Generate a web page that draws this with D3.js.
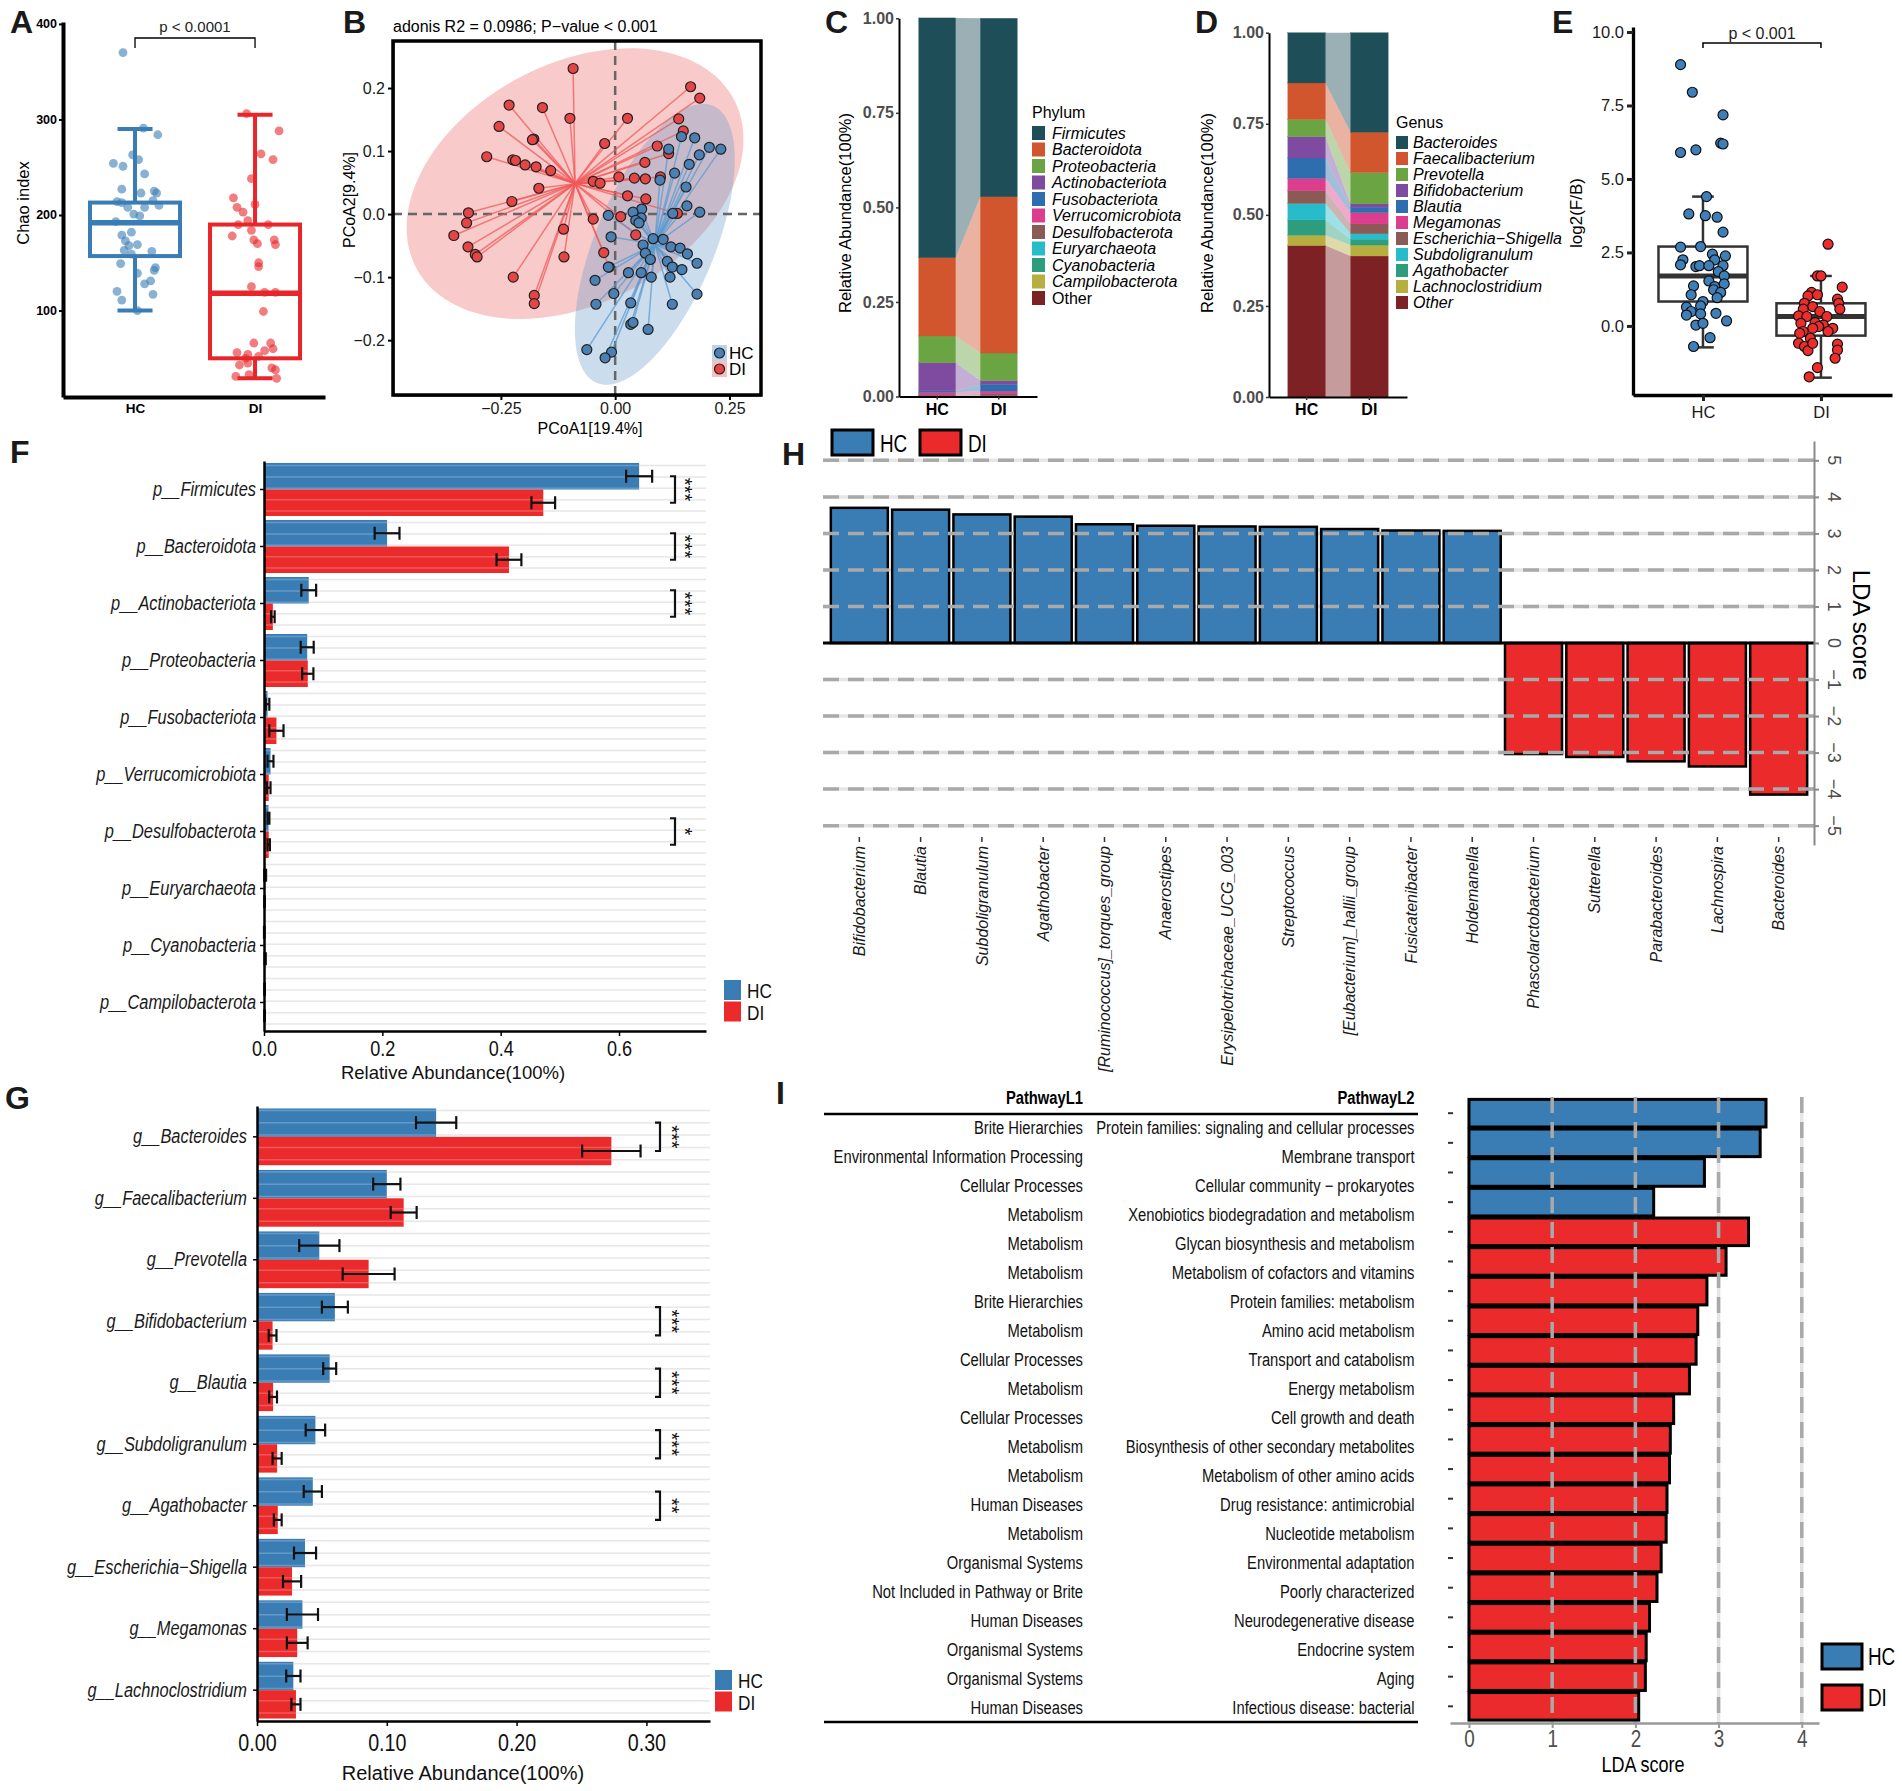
<!DOCTYPE html>
<html>
<head>
<meta charset="utf-8">
<title>Gut microbiota HC vs DI</title>
<script src="https://cdn.jsdelivr.net/npm/d3@7"></script>
<style>
  body { margin: 0; background: #fff; }
  svg { display: block; }
</style>
</head>
<body>
<svg id="fig" width="1902" height="1791"></svg>
<script>
const groups = ["HC", "DI"];

// A: Chao index (box = min, q1, median, q3, max); jitter in category units
const chaoStatsHC = [100, 157, 192, 213, 290];
const chaoStatsDI = [29, 50, 118, 190, 305];
const chaoHC = [370,291,284,263,258,254,251,243,227,223,225,223,214,213,208,208,215,210,201,199,193,182,179,173,168,169,163,162,159,149,145,142,139,131,128,120,117,111,100];
const chaoHCjit = [-0.10,0.07,0.19,-0.02,0.03,-0.18,-0.10,0.08,-0.11,0.05,0.16,0.18,-0.15,-0.11,-0.06,0.08,0.15,0.20,-0.01,0.04,-0.16,-0.03,-0.11,-0.08,-0.05,0.02,-0.09,0.14,-0.03,-0.12,0.17,0.16,0.02,0.13,0.08,-0.15,0.15,-0.11,0.02];
const chaoDI = [306,288,264,258,238,218,208,203,211,194,190,190,178,184,174,170,174,169,150,146,125,119,119,99,66,66,56,58,60,54,52,50,43,45,40,38,31,33,29];
const chaoDIjit = [-0.07,0.20,0.05,0.15,-0.03,-0.18,-0.15,-0.10,0,-0.06,-0.14,0.11,-0.19,-0.03,-0.01,0.02,0.16,0.17,0.03,0.03,-0.03,0.08,0.17,0.07,-0.01,0.13,-0.15,0.08,0.15,-0.06,0.03,-0.08,-0.13,-0.06,0.14,0.17,-0.16,-0.05,0.18];

// B: PCoA coordinates [PCoA1, PCoA2]
const pcoaHC = [[0.145,0.123],[0.174,0.121],[0.206,0.106],[0.231,0.103],[0.117,0.103],[0.184,0.094],[0.162,0.079],[0.130,0.065],[0.098,0.054],[0.155,0.043],[0.157,0.013],[0.185,0.003],[0.126,0.001],[0.058,0.008],[0.039,0.003],[-0.015,-0.002],[0.057,-0.006],[0.045,-0.010],[0.052,-0.014],[-0.009,-0.036],[0.083,-0.039],[0.105,-0.040],[0.061,-0.049],[0.122,-0.052],[0.142,-0.054],[0.158,-0.063],[0.066,-0.062],[0.077,-0.072],[0.114,-0.075],[0.179,-0.078],[0.125,-0.084],[0.146,-0.088],[-0.015,-0.084],[0.029,-0.093],[0.057,-0.093],[0.079,-0.100],[0.120,-0.100],[-0.044,-0.105],[-0.003,-0.126],[0.179,-0.127],[-0.042,-0.143],[0.034,-0.141],[0.125,-0.143],[0.034,-0.175],[0.039,-0.172],[0.072,-0.183],[-0.062,-0.215],[-0.008,-0.219],[-0.022,-0.228]];
const pcoaDI = [[-0.092,0.231],[0.165,0.202],[0.185,0.184],[-0.232,0.173],[-0.159,0.169],[-0.099,0.152],[0.027,0.152],[-0.254,0.139],[0.139,0.151],[0.149,0.132],[-0.178,0.119],[-0.181,0.118],[-0.023,0.112],[0.092,0.108],[0.117,0.096],[-0.281,0.091],[-0.224,0.086],[-0.218,0.085],[-0.197,0.078],[-0.173,0.075],[-0.141,0.069],[0.065,0.082],[0.008,0.059],[0.042,0.057],[0.066,0.056],[0.099,0.059],[-0.048,0.052],[-0.033,0.049],[-0.167,0.041],[0.027,0.029],[0.067,0.024],[-0.226,0.020],[-0.321,0.002],[0.136,0.001],[-0.325,-0.014],[-0.048,-0.008],[0.012,-0.004],[-0.353,-0.034],[-0.113,-0.024],[0.045,-0.033],[-0.322,-0.052],[-0.306,-0.064],[-0.302,-0.068],[-0.112,-0.068],[-0.025,-0.061],[-0.013,-0.084],[-0.223,-0.100],[-0.177,-0.129],[-0.177,-0.142]];

// C, D: mean relative abundance (top of stack first)
const taxaColors = ["#1E4F58","#D1552D","#6AA443","#7E4BA1","#2E6EAF","#DD3D8D","#8B5A54","#28BBCB","#2E9D7D","#B7AE40","#7E2124"];
const phylumNames = ["Firmicutes","Bacteroidota","Proteobacteria","Actinobacteriota","Fusobacteriota","Verrucomicrobiota","Desulfobacterota","Euryarchaeota","Cyanobacteria","Campilobacterota","Other"];
const phylumHC = [0.634,0.207,0.071,0.074,0.004,0.007,0.002,0.0005,0.0003,0.0003,0.0009];
const phylumDI = [0.472,0.413,0.073,0.010,0.018,0.007,0.005,0.0008,0.0006,0.0005,0.0001];
const genusNames = ["Bacteroides","Faecalibacterium","Prevotella","Bifidobacterium","Blautia","Megamonas","Escherichia\u2212Shigella","Subdoligranulum","Agathobacter","Lachnoclostridium","Other"];
const genusHC = [0.138,0.100,0.047,0.059,0.056,0.034,0.035,0.045,0.042,0.028,0.416];
const genusDI = [0.273,0.111,0.086,0.009,0.015,0.031,0.027,0.015,0.016,0.030,0.387];

// E: log2(F/B)
const fbStatsHC = [-0.73, 0.83, 1.70, 2.70, 4.40];
const fbStatsDI = [-1.76, -0.33, 0.32, 0.77, 1.70];
const fbHC = [8.89,7.95,7.18,5.90,5.99,6.22,6.19,4.40,3.81,3.75,3.70,3.19,2.68,2.70,2.25,2.08,2.44,2.25,2.38,2.02,2.05,2.05,2.05,1.85,1.70,1.53,1.34,1.43,1.36,1.23,1.06,1.14,0.96,0.83,0.68,0.64,0.49,0.37,0.41,0.43,0.17,0.03,0.09,-0.40,-0.70];
const fbHCjit = [-0.19,-0.09,0.17,-0.19,-0.06,0.15,0.17,0.03,-0.12,0.02,0.12,0.17,-0.19,-0.02,-0.17,-0.19,0.08,0.10,0.19,-0.06,-0.03,0.05,0.17,0.13,0.18,0.05,0.10,0.18,-0.08,0.09,-0.10,0.15,0.12,0,-0.02,-0.14,-0.10,-0.14,-0.02,0.11,0.20,-0.06,0,0.06,-0.08];
const fbDI = [2.78,1.70,1.70,1.32,0.91,0.77,0.57,1.14,1.02,1.06,0.77,0.66,0.57,0.49,0.34,0.32,0.32,0.09,0.11,0.03,-0.02,-0.08,-0.19,-0.08,-0.19,-0.42,-0.59,-0.70,-0.84,-0.59,-0.62,-0.82,-1.10,-1.42,-1.73,-0.25];
const fbDIjit = [0.06,-0.03,0,0.18,0.14,0.15,0.16,-0.08,-0.11,-0.03,-0.14,-0.07,-0.15,-0.01,-0.19,-0.12,0.05,-0.17,-0.05,0.02,-0.02,0.10,0.06,-0.07,-0.15,-0.09,-0.19,-0.14,-0.11,-0.07,0.14,0.14,0.12,-0.03,-0.10,-0.18];

// F: phylum abundance, mean and standard error
const phylaF = ["p__Firmicutes","p__Bacteroidota","p__Actinobacteriota","p__Proteobacteria","p__Fusobacteriota","p__Verrucomicrobiota","p__Desulfobacterota","p__Euryarchaeota","p__Cyanobacteria","p__Campilobacterota"];
const phylaFHC = [0.634,0.208,0.0756,0.073,0.006,0.011,0.0076,0.002,0.0005,0.001];
const phylaFHCse = [0.022,0.021,0.0125,0.011,0.003,0.005,0.0015,0.0015,0.0005,0.0005];
const phylaFDI = [0.472,0.414,0.015,0.074,0.021,0.008,0.008,0.001,0.002,0.001];
const phylaFDIse = [0.020,0.021,0.003,0.0095,0.012,0.003,0.002,0.0005,0.001,0.0005];
const phylaFSig = ["***","***","***","","","","*","","",""];

// G: genus abundance
const generaG = ["g__Bacteroides","g__Faecalibacterium","g__Prevotella","g__Bifidobacterium","g__Blautia","g__Subdoligranulum","g__Agathobacter","g__Escherichia\u2212Shigella","g__Megamonas","g__Lachnoclostridium"];
const generaGHC = [0.138,0.100,0.048,0.060,0.056,0.045,0.043,0.037,0.035,0.028];
const generaGHCse = [0.0155,0.0105,0.0155,0.010,0.005,0.0075,0.007,0.0085,0.012,0.0055];
const generaGDI = [0.273,0.113,0.086,0.012,0.0124,0.0155,0.016,0.027,0.031,0.030];
const generaGDIse = [0.0225,0.010,0.020,0.003,0.003,0.0035,0.003,0.007,0.008,0.0035];
const generaGSig = ["***","","","***","***","***","**","","",""];

// H: LEfSe taxa
const ldaTaxa = ["Bifidobacterium","Blautia","Subdoligranulum","Agathobacter","[Ruminococcus]_torques_group","Anaerostipes","Erysipelotrichaceae_UCG_003","Streptococcus","[Eubacterium]_hallii_group","Fusicatenibacter","Holdemanella","Phascolarctobacterium","Sutterella","Parabacteroides","Lachnospira","Bacteroides"];
const ldaScore = [3.70,3.65,3.52,3.46,3.25,3.21,3.19,3.18,3.12,3.08,3.07,-3.04,-3.12,-3.24,-3.38,-4.15];

// I: pathways
const pathL1 = ["Brite Hierarchies","Environmental Information Processing","Cellular Processes","Metabolism","Metabolism","Metabolism","Brite Hierarchies","Metabolism","Cellular Processes","Metabolism","Cellular Processes","Metabolism","Metabolism","Human Diseases","Metabolism","Organismal Systems","Not Included in Pathway or Brite","Human Diseases","Organismal Systems","Organismal Systems","Human Diseases"];
const pathL2 = ["Protein families: signaling and cellular processes","Membrane transport","Cellular community \u2212 prokaryotes","Xenobiotics biodegradation and metabolism","Glycan biosynthesis and metabolism","Metabolism of cofactors and vitamins","Protein families: metabolism","Amino acid metabolism","Transport and catabolism","Energy metabolism","Cell growth and death","Biosynthesis of other secondary metabolites","Metabolism of other amino acids","Drug resistance: antimicrobial","Nucleotide metabolism","Environmental adaptation","Poorly characterized","Neurodegenerative disease","Endocrine system","Aging","Infectious disease: bacterial"];
const pathLDA = [3.57,3.50,2.83,2.22,3.36,3.09,2.86,2.75,2.73,2.65,2.46,2.42,2.41,2.38,2.37,2.31,2.26,2.17,2.13,2.12,2.04];
const pathGroup = ["HC","HC","HC","HC","DI","DI","DI","DI","DI","DI","DI","DI","DI","DI","DI","DI","DI","DI","DI","DI","DI"];

// ---------------------------------------------------------------
const svg = d3.select("#fig");
svg.append("rect").attr("width", 1902).attr("height", 1791).attr("fill", "#fff");

const FONT = '"Liberation Sans", Arial, Helvetica, sans-serif';
const BLUE = "#3A7DB5";
const RED = "#EA2A2B";
const NK = 0.82; // lower panels use condensed lettering

// condense glyphs horizontally without moving the text anchor
function narrow(sel, k = NK) {
  sel.each(function () {
    const w = this.getComputedTextLength();
    if (w > 0) d3.select(this).attr("textLength", w * k).attr("lengthAdjust", "spacingAndGlyphs");
  });
}

function label(g, x, y, s, o = {}) {
  const t = g.append("text").attr("x", x).attr("y", y).text(s)
    .attr("fill", o.fill || "#000")
    .attr("text-anchor", o.anchor || "start")
    .style("font-family", FONT)
    .style("font-size", (o.size || 14) + "px")
    .style("font-weight", o.weight || "normal")
    .style("font-style", o.italic ? "italic" : "normal");
  if (o.rotate) t.attr("transform", `rotate(${o.rotate},${x},${y})`);
  if (o.narrow) narrow(t);
  return t;
}

function styleAxis(ax, o) {
  ax.attr("font-family", null).attr("font-size", null);
  ax.select(".domain").attr("stroke", o.line || "#000").attr("stroke-width", o.lw || 2);
  ax.selectAll(".tick line").attr("stroke", o.tick || o.line || "#000").attr("stroke-width", o.tw || o.lw || 2);
  ax.selectAll(".tick text").attr("fill", o.color || "#000")
    .style("font-family", FONT).style("font-size", o.size + "px")
    .style("font-weight", o.weight || "normal").style("font-style", o.italic ? "italic" : "normal");
  if (o.narrow) narrow(ax.selectAll(".tick text"));
}

function drawBox(g, x, y, pos, s, hw, cw, color, lw, mw) {
  const b = g.append("g").attr("stroke", color).attr("fill", "none");
  b.append("line").attr("x1", x(pos)).attr("x2", x(pos)).attr("y1", y(s[0])).attr("y2", y(s[1])).attr("stroke-width", lw);
  b.append("line").attr("x1", x(pos)).attr("x2", x(pos)).attr("y1", y(s[3])).attr("y2", y(s[4])).attr("stroke-width", lw);
  [s[0], s[4]].forEach(v => b.append("line").attr("x1", x(pos - cw)).attr("x2", x(pos + cw))
    .attr("y1", y(v)).attr("y2", y(v)).attr("stroke-width", lw));
  b.append("rect").attr("x", x(pos - hw)).attr("width", x(pos + hw) - x(pos - hw))
    .attr("y", y(s[3])).attr("height", y(s[1]) - y(s[3])).attr("stroke-width", lw);
  b.append("line").attr("x1", x(pos - hw)).attr("x2", x(pos + hw))
    .attr("y1", y(s[2])).attr("y2", y(s[2])).attr("stroke-width", mw);
}

// panel letters
[["A", 10, 33], ["B", 343, 33], ["C", 825, 33], ["D", 1195, 33], ["E", 1552, 33],
 ["F", 10, 463], ["G", 5, 1109], ["H", 782, 465], ["I", 776, 1104]]
  .forEach(d => label(svg, d[1], d[2], d[0], { size: 32, weight: "bold", fill: "#1a1a1a" }));

// ---------- A ----------
(function () {
  const g = svg.append("g");
  const x = d3.scaleLinear().domain([0.4, 2.583]).range([63, 325]);
  const y = d3.scaleLinear().domain([9.5, 402]).range([397, 22]);
  const sets = [
    { pos: 1, s: chaoStatsHC, v: chaoHC, j: chaoHCjit, c: "#3A7DB4" },
    { pos: 2, s: chaoStatsDI, v: chaoDI, j: chaoDIjit, c: "#E8262A" }
  ];
  sets.forEach(d => drawBox(g, x, y, d.pos, d.s, 0.375, 0.146, d.c, 4, 5.5));
  sets.forEach(d => {
    g.selectAll(null).data(d.v).join("circle")
      .attr("cx", (v, i) => x(d.pos + d.j[i])).attr("cy", v => y(v)).attr("r", 4.4)
      .attr("fill", d.c).attr("fill-opacity", 0.6);
  });
  const ya = g.append("g").attr("transform", "translate(63,0)")
    .call(d3.axisLeft(y).tickValues([100, 200, 300, 400]).tickSize(4).tickSizeOuter(0).tickPadding(2));
  styleAxis(ya, { lw: 4, tw: 2, size: 12.5, weight: "bold" });
  const xa = g.append("g").attr("transform", "translate(0,397)")
    .call(d3.axisBottom(x).tickValues([1, 2]).tickFormat(i => groups[i - 1]).tickSize(0).tickSizeOuter(0).tickPadding(6));
  styleAxis(xa, { lw: 4, size: 13.5, weight: "bold" });
  label(g, 29, 203, "Chao index", { size: 16.5, anchor: "middle", rotate: -90 });
  g.append("path").attr("d", `M${x(1)},48V38H${x(2)}V48`).attr("fill", "none").attr("stroke", "#000").attr("stroke-width", 1.3);
  label(g, (x(1) + x(2)) / 2, 32, "p < 0.0001", { size: 15, anchor: "middle", fill: "#222" });
})();

// ---------- B ----------
(function () {
  const g = svg.append("g");
  const x = d3.scaleLinear().domain([-0.486, 0.319]).range([393, 761]);
  const y = d3.scaleLinear().domain([-0.287, 0.2746]).range([395, 41]);
  svg.append("clipPath").attr("id", "clipB").append("rect")
    .attr("x", 393).attr("y", 41).attr("width", 368).attr("height", 354);
  const grp = [
    { pts: pcoaDI, fill: "#F08A8A", fo: 0.45, line: "#F05A5A", pt: "#E64545" },
    { pts: pcoaHC, fill: "#6A9FCB", fo: 0.35, line: "#5B9BD0", pt: "#4A80B4" }
  ];
  grp.forEach(d => {
    const n = d.pts.length;
    const mx = d3.mean(d.pts, p => p[0]), my = d3.mean(d.pts, p => p[1]);
    let sxx = 0, syy = 0, sxy = 0;
    d.pts.forEach(p => { sxx += (p[0] - mx) ** 2; syy += (p[1] - my) ** 2; sxy += (p[0] - mx) * (p[1] - my); });
    sxx /= n - 1; syy /= n - 1; sxy /= n - 1;
    const a = Math.sqrt(sxx), b = sxy / a, c = Math.sqrt(syy - b * b);
    const r = 2.4;
    d.center = [mx, my];
    d.ell = d3.range(0, 120).map(i => {
      const t = i / 120 * 2 * Math.PI, u = Math.cos(t), v = Math.sin(t);
      return [mx + r * a * u, my + r * (b * u + c * v)];
    });
  });
  const line = d3.line().x(p => x(p[0])).y(p => y(p[1])).curve(d3.curveLinearClosed);
  const inner = g.append("g").attr("clip-path", "url(#clipB)");
  grp.forEach(d => inner.append("path").attr("d", line(d.ell)).attr("fill", d.fill).attr("fill-opacity", d.fo));
  inner.append("line").attr("x1", x(0)).attr("x2", x(0)).attr("y1", 41).attr("y2", 395)
    .attr("stroke", "#666").attr("stroke-width", 2.5).attr("stroke-dasharray", "9,6");
  inner.append("line").attr("x1", 393).attr("x2", 761).attr("y1", y(0)).attr("y2", y(0))
    .attr("stroke", "#666").attr("stroke-width", 2.5).attr("stroke-dasharray", "9,6");
  grp.forEach(d => {
    inner.selectAll(null).data(d.pts).join("line")
      .attr("x1", p => x(p[0])).attr("y1", p => y(p[1]))
      .attr("x2", x(d.center[0])).attr("y2", y(d.center[1]))
      .attr("stroke", d.line).attr("stroke-opacity", 0.75).attr("stroke-width", 1.5);
  });
  grp.forEach(d => {
    inner.selectAll(null).data(d.pts).join("circle")
      .attr("cx", p => x(p[0])).attr("cy", p => y(p[1])).attr("r", 5)
      .attr("fill", d.pt).attr("stroke", "#222").attr("stroke-width", 1.2);
  });
  g.append("rect").attr("x", 393).attr("y", 41).attr("width", 368).attr("height", 354)
    .attr("fill", "none").attr("stroke", "#000").attr("stroke-width", 3.5);
  const ya = g.append("g").attr("transform", "translate(393,0)")
    .call(d3.axisLeft(y).tickValues([-0.2, -0.1, 0, 0.1, 0.2]).tickFormat(d3.format(".1f")).tickSize(5).tickSizeOuter(0).tickPadding(3));
  styleAxis(ya, { lw: 0, tw: 2, size: 16, color: "#1a1a1a" });
  const xa = g.append("g").attr("transform", "translate(0,395)")
    .call(d3.axisBottom(x).tickValues([-0.25, 0, 0.25]).tickFormat(d3.format(".2f")).tickSize(5).tickSizeOuter(0).tickPadding(3));
  styleAxis(xa, { lw: 0, tw: 2, size: 16, color: "#1a1a1a" });
  label(g, 393, 32, "adonis R2 = 0.0986; P\u2212value < 0.001", { size: 16 });
  label(g, 590, 434, "PCoA1[19.4%]", { size: 16, anchor: "middle" });
  label(g, 355, 200, "PCoA2[9.4%]", { size: 16, anchor: "middle", rotate: -90 });
  // legend
  [grp[1], grp[0]].forEach((d, i) => {
    g.append("rect").attr("x", 712).attr("y", 345 + i * 16).attr("width", 15).attr("height", 16)
      .attr("fill", d.fill).attr("fill-opacity", d.fo + 0.1);
    g.append("circle").attr("cx", 719.5).attr("cy", 353 + i * 16).attr("r", 5)
      .attr("fill", d.pt).attr("stroke", "#222").attr("stroke-width", 1.2);
    label(g, 729, 359 + i * 16, groups[i], { size: 17 });
  });
})();

// ---------- C, D ----------
function stackPanel(o) {
  const g = svg.append("g");
  const x = d3.scaleBand().domain(groups).range(o.xr).paddingInner(0.4).paddingOuter(o.po);
  const y = d3.scaleLinear().domain([0, 1]).range(o.yr);
  const color = d3.scaleOrdinal().domain(o.names).range(taxaColors);
  const table = [o.hc, o.di].map((vals, gi) => {
    const r = { group: groups[gi] };
    o.names.forEach((n, i) => { r[n] = vals[i]; });
    return r;
  });
  const series = d3.stack().keys(o.names.slice().reverse())(table);
  const xa = x("HC") + x.bandwidth(), xb = x("DI");
  g.selectAll(null).data(series).join("path")
    .attr("d", s => `M${xa},${y(s[0][1])}L${xb},${y(s[1][1])}L${xb},${y(s[1][0])}L${xa},${y(s[0][0])}Z`)
    .attr("fill", s => color(s.key)).attr("fill-opacity", 0.45);
  series.forEach(s => {
    g.selectAll(null).data(s).join("rect")
      .attr("x", d => x(d.data.group)).attr("width", x.bandwidth())
      .attr("y", d => y(d[1])).attr("height", d => y(d[0]) - y(d[1]))
      .attr("fill", color(s.key)).attr("stroke", color(s.key)).attr("stroke-width", 0.3);
  });
  const ya = g.append("g").attr("transform", `translate(${o.xr[0]},0)`)
    .call(d3.axisLeft(y).tickValues([0, 0.25, 0.5, 0.75, 1]).tickFormat(d3.format(".2f")).tickSize(3).tickSizeOuter(0).tickPadding(2));
  styleAxis(ya, { lw: 2, tw: 1.5, tick: "#333", size: 16, weight: "bold", color: "#4D4D4D" });
  const xax = g.append("g").attr("transform", `translate(0,${o.yr[0]})`)
    .call(d3.axisBottom(x).tickSize(3).tickSizeOuter(0).tickPadding(4));
  styleAxis(xax, { lw: 2, tw: 1.5, tick: "#333", size: 16, weight: "bold" });
  label(g, o.titleX, 213, "Relative Abundance(100%)", { size: 16.5, anchor: "middle", rotate: -90 });
  label(g, o.lx, o.ly, o.legendTitle, { size: 16 });
  o.names.forEach((n, i) => {
    const ky = o.ky + i * o.kstep;
    g.append("rect").attr("x", o.lx).attr("y", ky).attr("width", o.kw).attr("height", o.kh).attr("fill", color(n));
    label(g, o.lx + o.tdx, ky + o.kh / 2 + 5.5, n, { size: 16, italic: n !== "Other" || o.italicOther });
  });
}
stackPanel({ names: phylumNames, hc: phylumHC, di: phylumDI, xr: [899, 1037], po: 0.32, yr: [396.5, 18.3],
  titleX: 851, legendTitle: "Phylum", lx: 1032, ly: 118, ky: 126, kstep: 16.5, kw: 13, kh: 14, tdx: 20, italicOther: false });
stackPanel({ names: genusNames, hc: genusHC, di: genusDI, xr: [1269, 1407], po: 0.3, yr: [397, 32.7],
  titleX: 1213, legendTitle: "Genus", lx: 1396, ly: 127.5, ky: 136, kstep: 16, kw: 12, kh: 13, tdx: 17, italicOther: true });

// ---------- E ----------
(function () {
  const g = svg.append("g");
  const x = d3.scaleLinear().domain([0.407, 2.602]).range([1633, 1892]);
  const y = d3.scaleLinear().domain([-2.35, 10.17]).range([395, 27]);
  drawBox(g, x, y, 1, fbStatsHC, 0.377, 0.092, "#333", 2.5, 5);
  drawBox(g, x, y, 2, fbStatsDI, 0.377, 0.092, "#333", 2.5, 5);
  [[1, fbHC, fbHCjit, "#3F7FB9"], [2, fbDI, fbDIjit, "#EE2C2C"]].forEach(d => {
    g.selectAll(null).data(d[1]).join("circle")
      .attr("cx", (v, i) => x(d[0] + d[2][i])).attr("cy", v => y(v)).attr("r", 5)
      .attr("fill", d[3]).attr("stroke", "#111").attr("stroke-width", 1.2);
  });
  const ya = g.append("g").attr("transform", "translate(1633,0)")
    .call(d3.axisLeft(y).tickValues([0, 2.5, 5, 7.5, 10]).tickFormat(d3.format(".1f")).tickSize(6).tickSizeOuter(0).tickPadding(3));
  styleAxis(ya, { lw: 3.3, tw: 3, tick: "#222", size: 16.5, color: "#1a1a1a" });
  const xa = g.append("g").attr("transform", "translate(0,395)")
    .call(d3.axisBottom(x).tickValues([1, 2]).tickFormat(i => groups[i - 1]).tickSize(6).tickSizeOuter(0).tickPadding(5));
  styleAxis(xa, { lw: 3.3, tw: 3, tick: "#222", size: 16.5, color: "#1a1a1a" });
  label(g, 1582, 213, "log2(F/B)", { size: 17, anchor: "middle", rotate: -90 });
  g.append("path").attr("d", `M${x(1)},48V43H${x(2)}V48`).attr("fill", "none").attr("stroke", "#000").attr("stroke-width", 1.5);
  label(g, (x(1) + x(2)) / 2, 39, "p < 0.001", { size: 16, anchor: "middle", fill: "#222" });
})();

// ---------- F, G ----------
function abundancePanel(o) {
  const g = svg.append("g");
  const x = d3.scaleLinear().domain(o.xd).range(o.xr);
  const y = d3.scaleBand().domain(o.names).range(o.yr).paddingInner(o.pi).paddingOuter(o.po);
  const h = y.bandwidth() / 2;
  const rows = o.names.map((n, i) => ({ n, v: [o.hc[i], o.di[i]], se: [o.hcSe[i], o.diSe[i]], sig: o.sig[i] }));
  const stripes = d3.range(o.yr[0] + 4.5, o.yr[1] - 2, y.step() / 5);
  g.selectAll(null).data(stripes).join("line")
    .attr("x1", o.xr[0]).attr("x2", o.xr[1]).attr("y1", d => d).attr("y2", d => d)
    .attr("stroke", "#E2E2E2").attr("stroke-width", 1.5);
  [0, 1].forEach(j => {
    g.selectAll(null).data(rows).join("rect")
      .attr("x", x(0)).attr("y", d => y(d.n) + j * h)
      .attr("width", d => x(d.v[j]) - x(0)).attr("height", h)
      .attr("fill", j ? RED : BLUE);
  });
  g.selectAll(null).data(stripes).join("line")
    .attr("x1", o.xr[0]).attr("x2", o.xr[1]).attr("y1", d => d).attr("y2", d => d)
    .attr("stroke", "#fff").attr("stroke-opacity", 0.22).attr("stroke-width", 1.5);
  [0, 1].forEach(j => {
    const eb = g.selectAll(null).data(rows).join("g")
      .attr("transform", d => `translate(0,${y(d.n) + j * h + h / 2})`)
      .attr("stroke", "#111").attr("stroke-width", 2.2);
    eb.append("line").attr("x1", d => x(Math.max(0, d.v[j] - d.se[j]))).attr("x2", d => x(d.v[j] + d.se[j]));
    eb.append("line").attr("x1", d => x(Math.max(0, d.v[j] - d.se[j]))).attr("x2", d => x(Math.max(0, d.v[j] - d.se[j])))
      .attr("y1", -6.5).attr("y2", 6.5);
    eb.append("line").attr("x1", d => x(d.v[j] + d.se[j])).attr("x2", d => x(d.v[j] + d.se[j]))
      .attr("y1", -6.5).attr("y2", 6.5);
  });
  rows.filter(d => d.sig).forEach(d => {
    const y0 = y(d.n) + h / 2, y1 = y(d.n) + 1.5 * h;
    g.append("path").attr("d", `M${o.bx - 5},${y0}H${o.bx}V${y1}H${o.bx - 5}`)
      .attr("fill", "none").attr("stroke", "#111").attr("stroke-width", 2.2);
    g.append("text").attr("transform", `translate(${o.sx},${y(d.n) + h}) rotate(90)`)
      .attr("text-anchor", "middle").text(d.sig).attr("fill", "#111")
      .style("font-family", FONT).style("font-size", "20px");
  });
  const ya = g.append("g").attr("transform", `translate(${o.xr[0]},0)`)
    .call(d3.axisLeft(y).tickSize(4).tickSizeOuter(0).tickPadding(o.lpad));
  ya.selectAll(".tick").attr("transform", d => `translate(0,${y(d) + h})`);
  styleAxis(ya, { lw: 2.5, tw: 1.5, size: 20, italic: true, color: "#1a1a1a", narrow: true });
  const xa = g.append("g").attr("transform", `translate(0,${o.yr[1]})`)
    .call(d3.axisBottom(x).tickValues(o.ticks).tickFormat(d3.format(o.fmt)).tickSize(5).tickSizeOuter(0).tickPadding(o.tpad));
  styleAxis(xa, { lw: 2.5, tw: 1.5, size: o.tsize, color: "#111", narrow: true });
  label(g, o.titleX, o.titleY, "Relative Abundance(100%)", { size: o.titleSize, anchor: "middle", fill: "#111" });
  groups.forEach((gr, i) => {
    g.append("rect").attr("x", o.lgx).attr("y", o.lgy + i * (o.lgh + 1.5)).attr("width", 17).attr("height", o.lgh)
      .attr("fill", i ? RED : BLUE);
    label(g, o.lgx + 23, o.lgy + i * (o.lgh + 1.5) + o.lgh - 2, gr, { size: o.lgs, narrow: true, fill: "#111" });
  });
}
abundancePanel({ names: phylaF, hc: phylaFHC, hcSe: phylaFHCse, di: phylaFDI, diSe: phylaFDIse, sig: phylaFSig,
  xd: [0, 0.747], xr: [264, 706], yr: [461, 1031], pi: 0.07, po: 0.035,
  ticks: [0, 0.2, 0.4, 0.6], fmt: ".1f", tsize: 22, tpad: 4, lpad: 4,
  titleX: 453, titleY: 1079, titleSize: 18.5, bx: 675, sx: 678,
  lgx: 724, lgy: 980, lgh: 20, lgs: 21 });
abundancePanel({ names: generaG, hc: generaGHC, hcSe: generaGHCse, di: generaGDI, diSe: generaGDIse, sig: generaGSig,
  xd: [0, 0.349], xr: [257, 710], yr: [1106, 1721], pi: 0.077, po: 0.04,
  ticks: [0, 0.1, 0.2, 0.3], fmt: ".2f", tsize: 24, tpad: 8, lpad: 6,
  titleX: 463, titleY: 1780, titleSize: 20, bx: 660, sx: 665,
  lgx: 715, lgy: 1670, lgh: 20, lgs: 21 });

// ---------- H ----------
(function () {
  const g = svg.append("g");
  const x = d3.scaleBand().domain(ldaTaxa).range([829, 1809]).paddingInner(0.07).paddingOuter(0.03);
  const y = d3.scaleLinear().domain([-5.53, 5.53]).range([845, 441]);
  const gridV = d3.range(-5, 6).filter(v => v !== 0);
  g.selectAll(null).data(gridV).join("line")
    .attr("x1", 823).attr("x2", 1814).attr("y1", d => y(d)).attr("y2", d => y(d))
    .attr("stroke", "#E6E6E6").attr("stroke-width", 3.5);
  const rows = ldaTaxa.map((n, i) => ({ n, v: ldaScore[i] }));
  g.selectAll(null).data(rows).join("rect")
    .attr("x", d => x(d.n)).attr("width", x.bandwidth())
    .attr("y", d => y(Math.max(0, d.v))).attr("height", d => Math.abs(y(d.v) - y(0)))
    .attr("fill", d => d.v > 0 ? BLUE : RED).attr("stroke", "#000").attr("stroke-width", 2.5);
  g.selectAll(null).data(gridV).join("line")
    .attr("x1", 823).attr("x2", 1814).attr("y1", d => y(d)).attr("y2", d => y(d))
    .attr("stroke", "#A9A9A9").attr("stroke-width", 3.5).attr("stroke-dasharray", "16,9");
  g.append("line").attr("x1", 823).attr("x2", 1814).attr("y1", y(0)).attr("y2", y(0))
    .attr("stroke", "#000").attr("stroke-width", 3);
  const ax = g.append("g").attr("transform", "translate(1814,0)")
    .call(d3.axisRight(y).tickValues(d3.range(-5, 6)).tickFormat("").tickSize(5).tickSizeOuter(0));
  styleAxis(ax, { line: "#8A8A8A", lw: 2, tw: 2, size: 10 });
  const fmt = d3.format("d");
  d3.range(-5, 6).forEach(v => {
    g.append("text").attr("transform", `translate(1828,${y(v)}) rotate(90)`)
      .attr("text-anchor", "middle").text(fmt(v)).attr("fill", "#4D4D4D")
      .style("font-family", FONT).style("font-size", "18px");
  });
  g.append("text").attr("transform", "translate(1853,625) rotate(90)")
    .attr("text-anchor", "middle").text("LDA score").attr("fill", "#000")
    .style("font-family", FONT).style("font-size", "24px");
  rows.forEach(d => {
    const cx = x(d.n) + x.bandwidth() / 2;
    g.append("line").attr("x1", cx).attr("x2", cx).attr("y1", 837).attr("y2", 842)
      .attr("stroke", "#333").attr("stroke-width", 1.5);
    g.append("text").attr("transform", `translate(${cx},846) rotate(-90)`)
      .attr("text-anchor", "end").attr("dy", "0.35em").text(d.n).attr("fill", "#1a1a1a")
      .style("font-family", FONT).style("font-size", "16px").style("font-style", "italic");
  });
  groups.forEach((gr, i) => {
    g.append("rect").attr("x", 832 + i * 88).attr("y", 430).attr("width", 41).attr("height", 25)
      .attr("fill", i ? RED : BLUE).attr("stroke", "#000").attr("stroke-width", 3);
    label(g, 880 + i * 88, 452, gr, { size: 23, narrow: true });
  });
})();

// ---------- I ----------
(function () {
  const g = svg.append("g");
  const n = pathL2.length;
  const row = d3.scaleBand().domain(d3.range(n)).range([1114, 1722]);
  label(g, 1083, 1104, "PathwayL1", { size: 18, weight: "bold", anchor: "end", narrow: true });
  label(g, 1414.5, 1104, "PathwayL2", { size: 18, weight: "bold", anchor: "end", narrow: true });
  [1114, 1722].forEach(v => g.append("line").attr("x1", 824).attr("x2", 1418).attr("y1", v).attr("y2", v)
    .attr("stroke", "#000").attr("stroke-width", 2.5));
  d3.range(n).forEach(i => {
    const ty = row(i) + row.bandwidth() / 2 + 6;
    label(g, 1083, ty, pathL1[i], { size: 18, anchor: "end", narrow: true, fill: "#111" });
    label(g, 1414.5, ty, pathL2[i], { size: 18, anchor: "end", narrow: true, fill: "#111" });
  });
  const x = d3.scaleLinear().domain([-0.228, 4.207]).range([1450, 1819]);
  const y = d3.scaleBand().domain(d3.range(n)).range([1098.5, 1721]).paddingInner(0.07).paddingOuter(0.03);
  const gridX = [1, 2, 3, 4];
  g.selectAll(null).data(gridX).join("line")
    .attr("x1", d => x(d)).attr("x2", d => x(d)).attr("y1", 1097).attr("y2", 1723)
    .attr("stroke", "#E6E6E6").attr("stroke-width", 3.5);
  g.selectAll(null).data(d3.range(n)).join("rect")
    .attr("x", x(0)).attr("y", i => y(i)).attr("height", y.bandwidth())
    .attr("width", i => x(pathLDA[i]) - x(0))
    .attr("fill", i => pathGroup[i] === "HC" ? BLUE : RED).attr("stroke", "#000").attr("stroke-width", 3);
  g.selectAll(null).data(gridX).join("line")
    .attr("x1", d => x(d)).attr("x2", d => x(d)).attr("y1", 1097).attr("y2", 1723)
    .attr("stroke", "#A9A9A9").attr("stroke-width", 3.5).attr("stroke-dasharray", "16,9");
  g.selectAll(null).data(d3.range(n)).join("line")
    .attr("x1", 1448).attr("x2", 1453).attr("y1", i => y(i) + y.bandwidth() / 2).attr("y2", i => y(i) + y.bandwidth() / 2)
    .attr("stroke", "#333").attr("stroke-width", 2);
  const xa = g.append("g").attr("transform", "translate(0,1723)")
    .call(d3.axisBottom(x).tickValues([0, 1, 2, 3, 4]).tickFormat(d3.format("d")).tickSize(5).tickSizeOuter(0).tickPadding(3));
  styleAxis(xa, { line: "#999", lw: 2.5, tw: 2, size: 23, color: "#4D4D4D", narrow: true });
  label(g, 1643, 1772, "LDA score", { size: 22, anchor: "middle", narrow: true });
  groups.forEach((gr, i) => {
    g.append("rect").attr("x", 1822).attr("y", 1644 + i * 41).attr("width", 40).attr("height", 25)
      .attr("fill", i ? RED : BLUE).attr("stroke", "#000").attr("stroke-width", 3);
    label(g, 1868, 1665 + i * 41, gr, { size: 23, narrow: true });
  });
})();
</script>
</body>
</html>
